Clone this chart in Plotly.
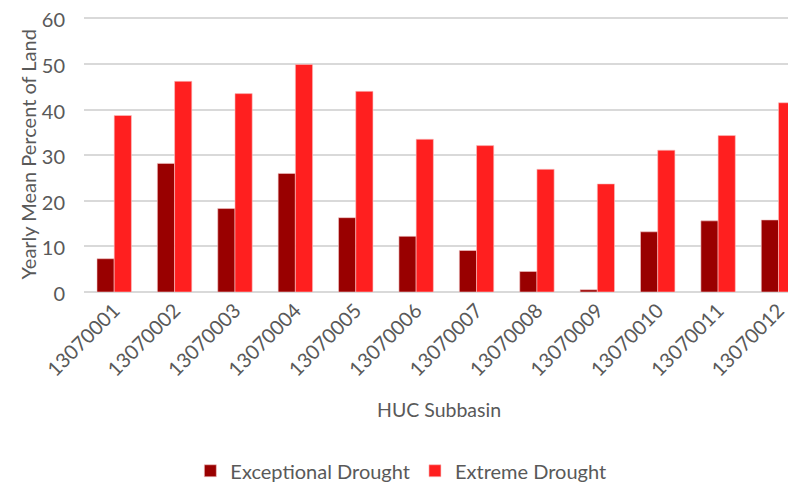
import plotly.graph_objects as go

categories = ["13070001", "13070002", "13070003", "13070004", "13070005", "13070006",
              "13070007", "13070008", "13070009", "13070010", "13070011", "13070012"]
exceptional = [7.3, 28.2, 18.3, 26.0, 16.3, 12.2, 9.1, 4.5, 0.5, 13.2, 15.6, 15.8]
extreme = [38.7, 46.2, 43.5, 49.9, 44.0, 33.5, 32.1, 26.9, 23.7, 31.1, 34.3, 41.5]

FONT = "Lato, 'Open Sans', sans-serif"
GREY = "#595959"

fig = go.Figure()
fig.add_trace(go.Bar(x=categories, y=exceptional, name="Exceptional Drought",
                     marker=dict(color="#990000", line=dict(color="#f4c7c7", width=0.6))))
fig.add_trace(go.Bar(x=categories, y=extreme, name="Extreme Drought",
                     marker=dict(color="#ff1f1f", line=dict(color="#f9c5c5", width=0.6))))

# page body has an 8px default margin; figure sized to the visible area
fig.update_layout(
    width=788, height=477,
    margin=dict(l=76, r=0, t=8.6, b=192.5, autoexpand=False),
    paper_bgcolor="white", plot_bgcolor="white",
    barmode="group", bargap=0.43, bargroupgap=0,
    font=dict(family=FONT, color=GREY, size=20),
    showlegend=True,
    legend=dict(orientation="h", x=0.445, xanchor="center", y=-0.65, yanchor="middle",
                font=dict(size=20, color=GREY), itemwidth=30, traceorder="normal"),
    xaxis=dict(type="category", range=[-0.5, 11.29], tickangle=-45, showgrid=False,
               showline=False, ticks="", automargin=False, ticklabelstandoff=2,
               ticklabeloverflow="allow", tickfont=dict(size=20, color=GREY)),
    yaxis=dict(range=[0, 60.3], tickvals=[0, 10, 20, 30, 40, 50, 60], showgrid=True,
               gridcolor="#d9d9d9", gridwidth=1.5,
               zeroline=True, zerolinecolor="#d9d9d9", zerolinewidth=1.5, showline=False,
               ticks="", automargin=False, ticklabelstandoff=18, ticklabeloverflow="allow",
               ticklabelshift=2, tickfont=dict(size=20, color=GREY)),
    annotations=[
        dict(text="Yearly Mean Percent of Land", textangle=-90, xref="paper", yref="paper",
             x=-0.0787, y=0.5, xanchor="center", yanchor="middle", showarrow=False,
             font=dict(size=20, color=GREY, family=FONT)),
        dict(text="HUC Subbasin", xref="paper", yref="paper",
             x=(439 - 84) / 712, y=(292.5 - 410) / 274.5, xanchor="center", yanchor="middle",
             showarrow=False, font=dict(size=19.5, color=GREY, family=FONT)),
    ],
)

fig.write_html("out.html")
